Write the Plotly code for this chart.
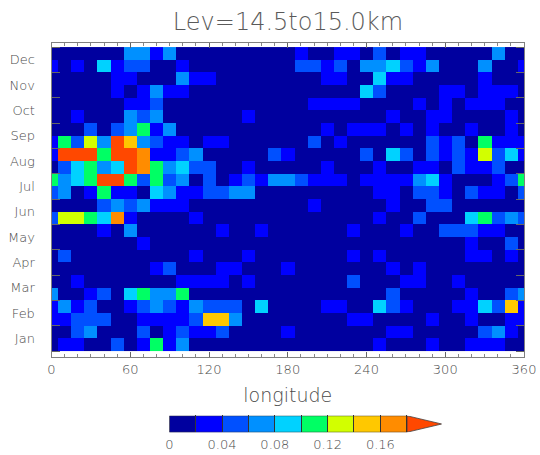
import plotly.graph_objects as go

# Colour class for each half-month row (Jan first half up to Dec second half),
# one entry per 10 degrees of longitude from 0 to 360. Class n means value in [0.02n, 0.02n+0.02).
jan_a = [0,1,1,0,0,2,0,1,5,1, 3,0,0,0,0,0,0,0,0,0, 0,0,0,0,0,1,0,0,0,1, 0,0,1,1,1,0,0]
jan_b = [0,0,2,3,0,0,0,2,0,1, 2,1,1,2,0,0,0,0,1,0, 0,0,0,0,0,0,1,1,0,0, 0,0,0,2,3,1,0]
feb_a = [1,1,2,2,2,0,0,1,1,1, 1,2,7,7,3,0,0,0,0,0, 0,0,0,1,1,0,0,0,0,1, 0,0,1,0,0,1,1]
feb_b = [1,3,1,2,0,0,1,2,3,2, 1,3,2,2,2,0,4,0,0,0, 0,1,1,0,0,4,2,1,0,0, 0,1,1,4,2,7,1]
mar_a = [3,0,0,1,2,0,4,5,3,3, 5,0,0,0,0,0,0,0,0,0, 0,0,0,0,0,0,2,0,0,0, 0,0,1,0,0,2,3]
mar_b = [0,0,1,0,0,0,0,0,0,0, 1,1,1,1,0,1,0,0,0,0, 0,0,0,2,0,0,0,1,1,0, 0,1,0,0,0,0,0]
apr_a = [0,0,0,0,0,0,0,0,1,2, 0,0,0,1,1,0,0,0,1,0, 0,0,0,0,0,0,1,0,1,0, 0,0,0,0,0,0,0]
apr_b = [0,2,0,0,0,0,0,0,0,0, 0,1,0,0,0,1,0,0,0,0, 0,0,0,1,0,1,0,0,0,0, 0,0,1,1,0,1,0]
may_a = [0,0,0,0,0,0,0,1,0,0, 0,0,0,0,0,0,0,0,0,0, 0,0,0,0,0,0,0,0,0,0, 0,0,1,0,0,2,0]
may_b = [0,0,0,0,1,0,3,0,0,0, 0,0,0,1,0,0,1,0,0,0, 0,0,0,1,0,0,0,1,0,0, 2,2,2,1,1,0,0]
jun_a = [2,6,6,5,4,8,1,0,0,0, 0,1,0,0,0,0,0,0,0,0, 0,0,0,0,0,1,0,0,2,0, 0,0,4,5,2,3,2]
jun_b = [0,0,0,0,2,3,2,3,1,1, 1,0,0,0,0,0,0,0,0,0, 1,0,0,0,0,0,1,0,0,2, 2,0,0,0,0,0,0]
jul_a = [2,3,0,1,5,1,1,0,4,3, 1,1,2,2,3,3,0,0,0,0, 0,0,0,0,0,1,1,0,2,2, 1,0,2,1,1,0,2]
jul_b = [5,3,4,5,9,9,5,2,5,2, 3,0,2,0,1,2,1,3,3,2, 1,1,1,0,1,1,1,1,3,4, 1,0,0,0,1,2,5]
aug_a = [0,2,4,5,3,4,9,8,5,3, 4,2,2,0,0,1,0,0,0,0, 0,1,0,0,0,1,0,0,1,1, 0,2,1,1,2,0,0]
aug_b = [1,9,9,9,5,9,9,8,1,1, 2,3,0,0,0,0,0,2,1,0, 0,0,0,0,2,0,4,2,0,2, 1,2,1,6,2,4,1]
sep_a = [1,5,2,6,3,9,7,3,2,1, 1,0,1,1,0,0,0,0,0,0, 2,0,1,0,0,0,0,0,0,2, 1,2,0,5,1,1,1]
sep_b = [0,0,0,2,0,2,3,5,1,3, 0,0,0,0,0,0,0,0,0,0, 0,1,0,1,1,1,0,1,0,1, 0,0,1,0,0,1,0]
oct_a = [0,0,1,0,0,0,3,2,3,0, 0,0,0,0,0,1,0,0,0,0, 0,0,0,0,0,0,1,0,0,1, 1,0,0,0,0,1,0]
oct_b = [0,0,0,0,0,0,1,1,2,0, 0,0,0,0,0,0,0,0,0,0, 1,1,1,1,0,0,0,0,1,0, 1,0,1,1,1,0,0]
nov_a = [0,0,0,0,0,1,0,1,3,1, 1,0,0,0,0,0,0,0,0,0, 0,0,0,0,4,2,0,0,0,0, 1,1,0,1,1,1,0]
nov_b = [0,0,0,0,0,1,1,0,0,0, 3,1,1,0,0,0,0,0,0,0, 0,1,1,0,0,4,1,1,0,0, 0,0,0,1,0,0,0]
dec_a = [1,0,1,0,4,1,2,2,0,0, 1,0,0,0,0,0,0,0,0,2, 2,1,2,0,3,3,4,2,1,3, 0,0,0,3,0,0,1]
dec_b = [0,0,0,0,0,0,3,3,1,3, 0,0,0,0,0,0,0,0,0,1, 0,0,1,1,0,2,0,1,1,0, 0,0,0,0,3,0,0]
rows = [jan_a, jan_b, feb_a, feb_b, mar_a, mar_b, apr_a, apr_b, may_a, may_b, jun_a, jun_b,
        jul_a, jul_b, aug_a, aug_b, sep_a, sep_b, oct_a, oct_b, nov_a, nov_b, dec_a, dec_b]

longitudes = list(range(0, 370, 10))
month_pos = [i * 0.5 + 0.25 for i in range(24)]
months = ["Jan", "Feb", "Mar", "Apr", "May", "Jun", "Jul", "Aug", "Sep", "Oct", "Nov", "Dec"]
month_centres = [i + 0.5 for i in range(12)]
lon_ticks = [0, 60, 120, 180, 240, 300, 360]
bar_edges = [0, 0.02, 0.04, 0.06, 0.08, 0.10, 0.12, 0.14, 0.16, 0.18]
bar_labels = ["0", "", "0.04", "", "0.08", "", "0.12", "", "0.16", ""]
colors = ["#00009f", "#0000ff", "#0050ff", "#0090ff", "#00d2ff",
          "#00ff64", "#d2ff00", "#ffc800", "#ff8c00", "#ff4800"]

W, H = 540, 455
INK = "#4a4a4a"
FONT = "DejaVu Sans"

scale = []
for i, c in enumerate(colors):
    scale += [[i / 10, c], [(i + 1) / 10, c]]

z = [[v * 0.02 + 0.01 for v in r] for r in rows]

fig = go.Figure()
fig.add_trace(go.Heatmap(x=longitudes, y=month_pos, z=z, zmin=0, zmax=0.2,
                         colorscale=scale, showscale=False, xgap=0, ygap=0))
bar_mid = [e + 0.01 for e in bar_edges[:-1]]
fig.add_trace(go.Heatmap(x=bar_mid, y=[0.5], z=[bar_mid], zmin=0, zmax=0.2, colorscale=scale,
                         showscale=False, xaxis="x2", yaxis="y2"))
fig.add_trace(go.Scatter(x=[0.18, 0.2065, 0.18, 0.18], y=[1, 0.5, 0, 1], mode="lines",
                         fill="toself", fillcolor=colors[9], line=dict(color="#444444", width=0.8),
                         xaxis="x2", yaxis="y2", hoverinfo="skip"))
fig.add_trace(go.Scatter(x=[0, 0.18, 0.18, 0, 0], y=[1, 1, 0, 0, 1], mode="lines",
                         line=dict(color="#333333", width=1), xaxis="x2", yaxis="y2", hoverinfo="skip"))

fig.update_layout(
    width=W, height=H, margin=dict(l=0, r=0, t=0, b=0),
    paper_bgcolor="white", plot_bgcolor="white", showlegend=False,
    font=dict(family=FONT, color=INK, weight=200),
    xaxis=dict(domain=[51.5 / W, 524 / W], range=[0, 360], tickvals=lon_ticks, automargin=False,
               ticks="inside", ticklen=5, tickcolor="#666666", tickwidth=1,
               minor=dict(dtick=10, tick0=0, ticks="inside", ticklen=3, tickcolor="#888888"),
               showline=True, linecolor="#808080", linewidth=1, mirror="ticks", showgrid=False,
               zeroline=False, tickfont=dict(size=13, color=INK, weight=200),
               title=dict(text="longitude", font=dict(size=19, color=INK, weight=200), standoff=13)),
    yaxis=dict(domain=[1 - 357 / H, 1 - 42.5 / H], range=[-0.237, 12.18], tickvals=month_centres,
               ticktext=months, ticks="", ticklabelstandoff=13, automargin=False,
               minor=dict(dtick=1, tick0=0, ticks="inside", ticklen=8, tickcolor="#666666"),
               showline=True, linecolor="#808080", linewidth=1, mirror="ticks", showgrid=False,
               zeroline=False, tickfont=dict(size=13, color=INK, weight=200)),
    xaxis2=dict(domain=[169.3 / W, 441.7 / W], range=[0, 0.2065], anchor="y2", tickvals=bar_edges,
                ticktext=bar_labels, ticks="inside", ticklen=17, tickcolor="#333333", tickwidth=1,
                ticklabelstandoff=3, automargin=False, showline=False, showgrid=False, zeroline=False,
                tickfont=dict(size=13, color=INK, weight=200)),
    yaxis2=dict(domain=[1 - 432.3 / H, 1 - 415.7 / H], range=[0, 1], anchor="x2", visible=False,
                automargin=False),
    title=dict(text="Lev=14.5to15.0km", x=288 / W, xanchor="center", y=1 - 22 / H, yanchor="middle",
               font=dict(size=24, color="#5a5a5a", family=FONT, weight=200)),
)
resize = ("document.documentElement.style.overflow='hidden';document.body.style.margin='0';"
          "document.body.style.overflow='hidden';"
          "var g=document.getElementById('{plot_id}');Plotly.relayout(g,{width:540,height:455});")
fig.write_html("out.html", post_script=resize, config=dict(displayModeBar=False))
